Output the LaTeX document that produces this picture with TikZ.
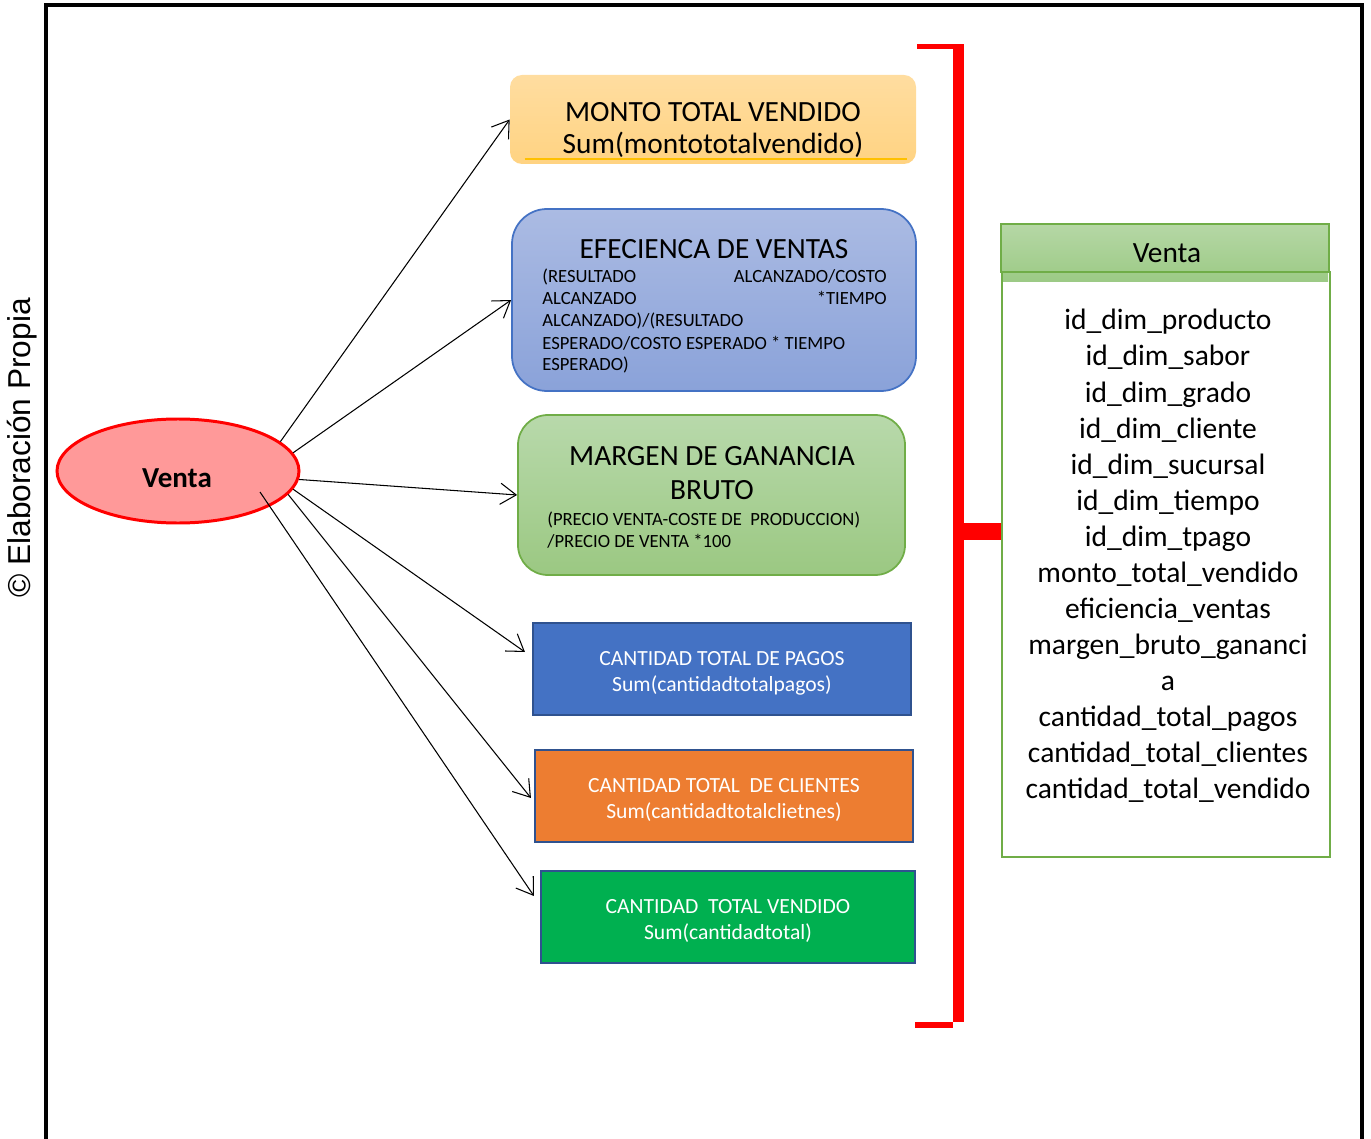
\documentclass[tikz,border=0pt]{standalone}
\usepackage{fontspec}
\setmainfont{Carlito}
\newfontfamily\arialfont{Liberation Sans}
\usetikzlibrary{arrows.meta,calc,shapes.geometric}

\definecolor{montoTop}{HTML}{FFDDA0}
\definecolor{montoBot}{HTML}{FFD382}
\definecolor{montoLine}{HTML}{FFC000}
\definecolor{eficTop}{HTML}{ABBBE3}
\definecolor{eficBot}{HTML}{8AA2D9}
\definecolor{eficLine}{HTML}{4472C4}
\definecolor{margTop}{HTML}{B8D9AB}
\definecolor{margBot}{HTML}{9BC882}
\definecolor{margLine}{HTML}{70AD47}
\definecolor{pagosFill}{HTML}{4472C4}
\definecolor{cliFill}{HTML}{ED7D31}
\definecolor{vendFill}{HTML}{00B050}
\definecolor{boxLine}{HTML}{2F528F}
\definecolor{pinkFill}{HTML}{FF9999}
\definecolor{tblGreen}{HTML}{70AD47}
\definecolor{hdTop}{HTML}{B5D7A5}
\definecolor{hdBot}{HTML}{9CCA85}

\newcommand\fsTitle{\fontsize{16.7pt}{20pt}\selectfont}
\newcommand\fsField{\fontsize{16.8pt}{20.2pt}\selectfont}
\newcommand\fsBody{\fontsize{10.6pt}{12.8pt}\selectfont}
\newcommand\fsSmall{\fontsize{12.3pt}{14.8pt}\selectfont}

\begin{document}
\begin{tikzpicture}[x=0.2mm,y=-0.2mm,
  txt/.style={inner sep=0pt, anchor=base},
  ltxt/.style={inner sep=0pt, anchor=base west},
  arr/.style={-{Straight Barb[length=9pt,width=12pt]}, line width=0.6pt},
  flatbox/.style={draw=boxLine, line width=1.2pt, minimum width=75.6mm, minimum height=18.4mm, inner sep=0pt}]
\useasboundingbox (0,0) rectangle (1371,1139);

% outer frame, open at the bottom
\draw[line width=2.3pt, line join=miter] (46,1150) -- (46,5) -- (1362,5) -- (1362,1150);

% credit line along the left edge
\node[rotate=90, inner sep=0pt, font=\arialfont\fontsize{18pt}{21pt}\selectfont] (credit) at (22,448) {© Elaboración Propia};

% central entity
\node[ellipse, draw=red, line width=1.7pt, fill=pinkFill, minimum width=48.4mm, minimum height=20.8mm, inner sep=0pt] (venta) at (178,471) {};
\node[txt, font=\bfseries\fontsize{16.5pt}{19.8pt}\selectfont] (ventaT) at (177,487) {Venta};

% measure cards
\node[shade, top color=montoTop, bottom color=montoBot, rounded corners=2.4mm, minimum width=81.2mm, minimum height=17.8mm, inner sep=0pt] (monto) at (713,119.5) {};
\draw[montoLine, line width=0.9pt] ($(monto.south west)+(15,-5.5)$) -- ($(monto.south east)+(-9,-5.5)$);
\node[txt, font=\fsTitle] (montoA) at (713,122) {MONTO TOTAL VENDIDO};
\node[txt, font=\fsTitle] (montoB) at (713,154) {Sum(montototalvendido)};

\node[draw=eficLine, line width=1pt, top color=eficTop, bottom color=eficBot, rounded corners=7mm, minimum width=80.8mm, minimum height=36.4mm, inner sep=0pt] (efic) at (714,300) {};
\node[txt, font=\fsTitle] (eficT) at (714,259) {EFECIENCA DE VENTAS};
\node[ltxt, font=\fsBody] (eficL1) at (542,283) {\hbox to 196pt{(RESULTADO\hfill ALCANZADO/COSTO}};
\node[ltxt, font=\fsBody] (eficL2) at (542,305) {\hbox to 196pt{ALCANZADO\hfill *TIEMPO}};
\node[ltxt, font=\fsBody] (eficL3) at (542,327) {ALCANZADO)/(RESULTADO};
\node[ltxt, font=\fsBody] (eficL4) at (542,349) {ESPERADO/COSTO ESPERADO * TIEMPO};
\node[ltxt, font=\fsBody] (eficL5) at (542,371) {ESPERADO)};

\node[draw=margLine, line width=1pt, top color=margTop, bottom color=margBot, rounded corners=6mm, minimum width=77.4mm, minimum height=32mm, inner sep=0pt] (marg) at (711.5,495) {};
\node[txt, font=\fsTitle] (margT1) at (712,465) {MARGEN DE GANANCIA};
\node[txt, font=\fsTitle] (margT2) at (712,499) {BRUTO};
\node[ltxt, font=\fsBody] (margL1) at (547,525) {(PRECIO VENTA-COSTE DE~ PRODUCCION)};
\node[ltxt, font=\fsBody] (margL2) at (547,547) {/PRECIO DE VENTA *100};

\node[flatbox, fill=pagosFill] (pagos) at (722,669) {};
\node[txt, font=\fsSmall, white] (pagosA) at (722,665) {CANTIDAD TOTAL DE PAGOS};
\node[txt, font=\fsSmall, white] (pagosB) at (722,691) {Sum(cantidadtotalpagos)};

\node[flatbox, fill=cliFill] (clientes) at (724,796) {};
\node[txt, font=\fsSmall, white] (clientesA) at (724,792) {CANTIDAD TOTAL~ DE CLIENTES};
\node[txt, font=\fsSmall, white] (clientesB) at (724,818) {Sum(cantidadtotalclietnes)};

\node[flatbox, fill=vendFill, minimum width=74.8mm] (vendido) at (728,917) {};
\node[txt, font=\fsSmall, white] (vendidoA) at (728,913) {CANTIDAD~ TOTAL VENDIDO};
\node[txt, font=\fsSmall, white] (vendidoB) at (728,939) {Sum(cantidadtotal)};

% connectors from the entity to each measure
\coordinate (pagosIn) at ($(pagos.west)+(-7,-17)$);
\coordinate (clientesIn) at ($(clientes.west)+(-3,2)$);
\coordinate (vendidoIn) at ($(vendido.west)+(-6,-21)$);
\coordinate (ventaInner) at ($(venta.center)+(82,21)$);
\draw[arr] (venta.16) -- (monto.west);
\draw[arr] (venta.9.5) -- (efic.west);
\draw[arr] (venta.-4) -- (marg.west);
\draw[arr] (venta.-9.5) -- (pagosIn);
\draw[arr] (venta.-12) -- (clientesIn);
\draw[arr] (ventaInner) -- (vendidoIn);

% red bracket grouping the measures
\fill[red] (917,44) rectangle (964,49);
\fill[red] (953,44) rectangle (964,1022);
\fill[red] (915,1022) rectangle (953,1028);

% fact table
\shade[top color=hdTop, bottom color=hdBot] (1002,225) rectangle (1328,282);
\node[draw=tblGreen, line width=1.3pt, minimum width=65.6mm, minimum height=9.6mm, inner sep=0pt] (tblHead) at (1165,248) {};
\node[draw=tblGreen, line width=1.3pt, minimum width=65.6mm, minimum height=117mm, inner sep=0pt] (tblBody) at (1166,564.5) {};
\node[txt, font=\fsTitle] (tblTitle) at (1167,263) {Venta};
\foreach \f [count=\i from 0] in {id\_dim\_producto, id\_dim\_sabor, id\_dim\_grado, id\_dim\_cliente, id\_dim\_sucursal, id\_dim\_tiempo, id\_dim\_tpago, monto\_total\_vendido, eficiencia\_ventas, margen\_bruto\_gananci, a, cantidad\_total\_pagos, cantidad\_total\_clientes, cantidad\_total\_vendido}
  \node[txt, font=\fsField] (field\i) at (1168,{330+36*\i}) {\f};

% bracket stub joining the table
\coordinate (brk) at (958.5,531.5);
\draw[red, line width=9.7pt] (brk) -- (brk -| tblBody.west);
\end{tikzpicture}
\end{document}
